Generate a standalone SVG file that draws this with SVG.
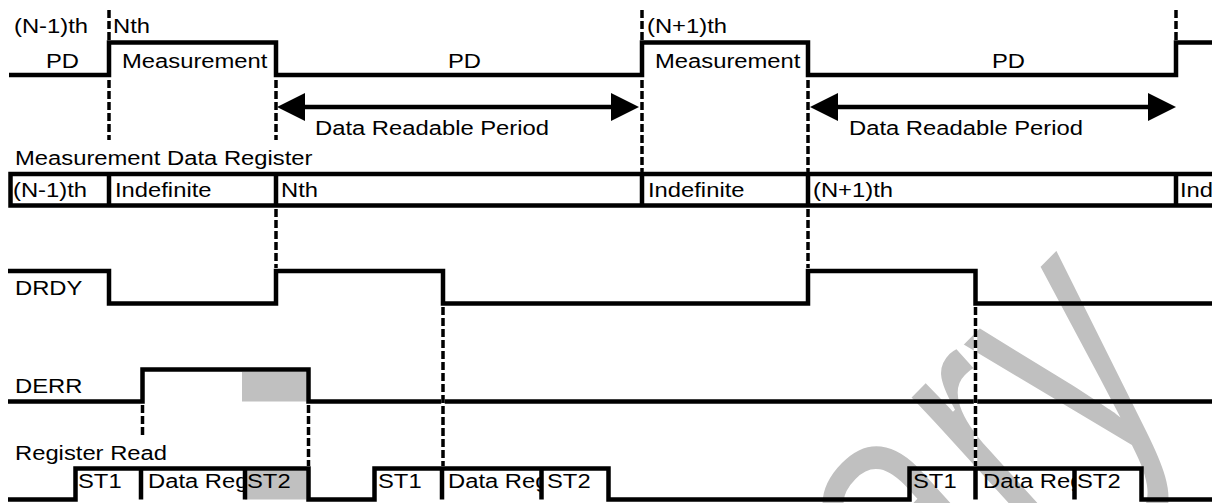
<svg xmlns="http://www.w3.org/2000/svg" width="1212" height="503" viewBox="0 0 1212 503">
  <style>
    .t { font-family: "Liberation Sans", Arial, sans-serif; font-size: 19.5px; fill: #000; }
    .wave { fill: none; stroke: #000; stroke-width: 4.5; stroke-linejoin: miter; stroke-linecap: butt; }
    .under { stroke: #fff; stroke-width: 3.5; }
    .dash { stroke: #000; stroke-width: 3.5; stroke-dasharray: 8 3; }
    .shade { fill: #c0c0c0; }
    .mark { font-family: "Liberation Sans", Arial, sans-serif; font-size: 100px; fill: #c0c0c0; stroke: #fff; stroke-width: 1; }
  </style>
  <defs>
    <marker id="head" markerUnits="userSpaceOnUse" markerWidth="28" markerHeight="28" refX="0" refY="14" orient="auto-start-reverse">
      <path d="M0,0 L28,14 L0,28 Z" fill="#000"/>
    </marker>
    <clipPath id="cellA"><rect x="141" y="440" width="104" height="63"/></clipPath>
    <clipPath id="cellB"><rect x="442" y="440" width="99.5" height="63"/></clipPath>
    <clipPath id="cellC"><rect x="975.5" y="440" width="99" height="63"/></clipPath>
  </defs>

  <!-- background watermark -->
  <g id="watermark">
    <text class="mark" text-anchor="end" transform="matrix(1.924,-1.95,2.46,2.705,1186.9,390.6)">ary</text>
  </g>

  <!-- measurement / power-down cycle -->
  <g id="cycle">
    <path class="wave" d="M9,75 H109 V42.5 H276 V75 H642 V42.5 H808 V75 H1176 V42.5 H1212"/>
    <text class="t" x="14" y="33" textLength="74" lengthAdjust="spacingAndGlyphs">(N-1)th</text>
    <text class="t" x="46" y="68" textLength="33" lengthAdjust="spacingAndGlyphs">PD</text>
    <text class="t" x="113" y="33" textLength="37" lengthAdjust="spacingAndGlyphs">Nth</text>
    <text class="t" x="122" y="68" textLength="145.4" lengthAdjust="spacingAndGlyphs">Measurement</text>
    <text class="t" x="448" y="68" textLength="33" lengthAdjust="spacingAndGlyphs">PD</text>
    <text class="t" x="647" y="33" textLength="80" lengthAdjust="spacingAndGlyphs">(N+1)th</text>
    <text class="t" x="655" y="68" textLength="145.4" lengthAdjust="spacingAndGlyphs">Measurement</text>
    <text class="t" x="992" y="68" textLength="33" lengthAdjust="spacingAndGlyphs">PD</text>
  </g>

  <!-- readable windows -->
  <g id="readable">
    <line x1="305" y1="107" x2="611" y2="107" stroke="#000" stroke-width="4.5" marker-start="url(#head)" marker-end="url(#head)"/>
    <line x1="838" y1="107" x2="1148" y2="107" stroke="#000" stroke-width="4.5" marker-start="url(#head)" marker-end="url(#head)"/>
    <text class="t" x="315" y="135" textLength="234" lengthAdjust="spacingAndGlyphs">Data Readable Period</text>
    <text class="t" x="849" y="135" textLength="234" lengthAdjust="spacingAndGlyphs">Data Readable Period</text>
  </g>

  <!-- measurement data register contents -->
  <g id="register">
    <text class="t" x="15" y="165" textLength="297.5" lengthAdjust="spacingAndGlyphs">Measurement Data Register</text>
    <path class="wave" d="M1212,174 H10.5 V205.5 H1212"/>
    <path class="wave" d="M109,174 V205.5 M276,174 V205.5 M642,174 V205.5 M808,174 V205.5 M1176,174 V205.5"/>
    <text class="t" x="13" y="197" textLength="74" lengthAdjust="spacingAndGlyphs">(N-1)th</text>
    <text class="t" x="115" y="197" textLength="96.5" lengthAdjust="spacingAndGlyphs">Indefinite</text>
    <text class="t" x="281" y="197" textLength="37" lengthAdjust="spacingAndGlyphs">Nth</text>
    <text class="t" x="648" y="197" textLength="96.5" lengthAdjust="spacingAndGlyphs">Indefinite</text>
    <text class="t" x="813" y="197" textLength="80" lengthAdjust="spacingAndGlyphs">(N+1)th</text>
    <text class="t" x="1180" y="197" textLength="33.1" lengthAdjust="spacingAndGlyphs">Ind</text>
  </g>

  <!-- DRDY flag -->
  <g id="drdy">
    <path class="wave" d="M8,271 H109 V303.5 H276 V271 H443 V303.5 H808 V271 H975.5 V303.5 H1212"/>
    <text class="t" x="15" y="295" textLength="67.4" lengthAdjust="spacingAndGlyphs">DRDY</text>
  </g>

  <!-- DERR flag -->
  <g id="derr">
    <rect class="shade" x="242" y="372" width="64.5" height="29.5"/>
    <path class="wave" d="M8,401.5 H142.5 V369.5 H308.5 V401.5 H1212"/>
    <text class="t" x="15" y="393" textLength="67.4" lengthAdjust="spacingAndGlyphs">DERR</text>
  </g>

  <!-- register read transactions -->
  <g id="register-read">
    <text class="t" x="15" y="460" textLength="152" lengthAdjust="spacingAndGlyphs">Register Read</text>
    <text class="t" x="148" y="488" textLength="100.5" lengthAdjust="spacingAndGlyphs" clip-path="url(#cellA)">Data Reg</text>
    <rect class="shade" x="245" y="470.7" width="61.5" height="28.8"/>
    <path class="wave" d="M8,499.5 H75.5 V468.5 H308.5 V499.5 H374.5 V468.5 H608.5 V499.5 H909.5 V468.5 H1141.5 V499.5 H1212"/>
    <path class="wave" d="M141,468.5 V499.5 M245,468.5 V499.5 M442,468.5 V499.5 M541.5,468.5 V499.5 M975.5,468.5 V499.5 M1074.5,468.5 V499.5"/>
    <text class="t" x="78" y="488" textLength="43.6" lengthAdjust="spacingAndGlyphs">ST1</text>
    <text class="t" x="247" y="488" textLength="43.6" lengthAdjust="spacingAndGlyphs">ST2</text>
    <text class="t" x="378" y="488" textLength="43.6" lengthAdjust="spacingAndGlyphs">ST1</text>
    <text class="t" x="448" y="488" textLength="100.5" lengthAdjust="spacingAndGlyphs" clip-path="url(#cellB)">Data Reg</text>
    <text class="t" x="547" y="488" textLength="43.6" lengthAdjust="spacingAndGlyphs">ST2</text>
    <text class="t" x="913" y="488" textLength="43.6" lengthAdjust="spacingAndGlyphs">ST1</text>
    <text class="t" x="983" y="488" textLength="100.5" lengthAdjust="spacingAndGlyphs" clip-path="url(#cellC)">Data Reg</text>
    <text class="t" x="1077" y="488" textLength="43.6" lengthAdjust="spacingAndGlyphs">ST2</text>
  </g>

  <!-- dashed timing guides -->
  <g id="connectors">
    <path class="under" d="M109,10 V40 M109,80 V140 M276,80 V140 M276,209 V268 M642,10 V40 M642,80 V172 M808,80 V172 M808,209 V268 M1176,10 V40 M443,307 V466 M975.5,307 V466 M142.5,405 V437 M308.5,405 V466"/>
    <path class="dash" d="M109,10 V40 M109,80 V140 M276,80 V140 M276,209 V268 M642,10 V40 M642,80 V172 M808,80 V172 M808,209 V268 M1176,10 V40 M443,307 V466 M975.5,307 V466 M142.5,405 V437 M308.5,405 V466"/>
  </g>
</svg>
